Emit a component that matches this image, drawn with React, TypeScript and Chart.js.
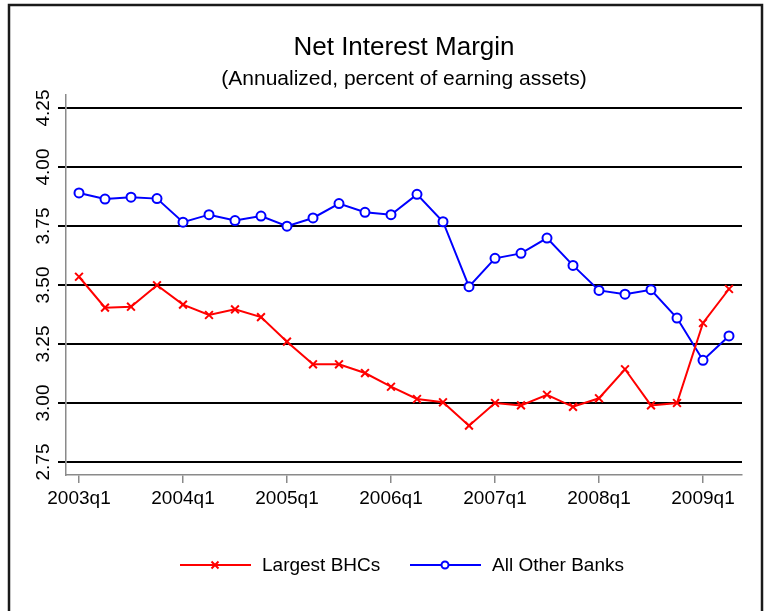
import React, { useEffect, useRef } from 'react';
import { Chart, registerables } from 'chart.js';

Chart.register(...registerables);

const FONT = "'Liberation Sans', Arial, Helvetica, sans-serif";

const titleText = 'Net Interest Margin';
const subtitleText = '(Annualized, percent of earning assets)';

const quarters = [
  '2003q1', '2003q2', '2003q3', '2003q4',
  '2004q1', '2004q2', '2004q3', '2004q4',
  '2005q1', '2005q2', '2005q3', '2005q4',
  '2006q1', '2006q2', '2006q3', '2006q4',
  '2007q1', '2007q2', '2007q3', '2007q4',
  '2008q1', '2008q2', '2008q3', '2008q4',
  '2009q1', '2009q2',
];

const largestBHCs = [
  3.535, 3.404, 3.408, 3.499,
  3.417, 3.373, 3.397, 3.364,
  3.260, 3.164, 3.164, 3.127,
  3.069, 3.017, 3.003, 2.904,
  3.000, 2.990, 3.035, 2.984,
  3.020, 3.143, 2.990, 3.000,
  3.339, 3.483,
];

const allOtherBanks = [
  3.890, 3.864, 3.872, 3.866,
  3.766, 3.798, 3.773, 3.792,
  3.749, 3.784, 3.845, 3.808,
  3.798, 3.884, 3.768, 3.493,
  3.613, 3.634, 3.699, 3.583,
  3.477, 3.461, 3.480, 3.360,
  3.181, 3.284,
];

const seriesNames = ['Largest BHCs', 'All Other Banks'];
const seriesColors = ['#ff0000', '#0000ff'];

const yMin = 2.695;
const yMax = 4.305;
const yStep = 0.25;

const decorPlugin = {
  id: 'decor',
  beforeDraw(chart: any) {
    const ctx = chart.ctx;
    ctx.save();
    ctx.fillStyle = '#ffffff';
    ctx.fillRect(0, 0, chart.width, chart.height);
    ctx.restore();
  },
  afterDraw(chart: any) {
    const ctx = chart.ctx;
    const area = chart.chartArea;
    const cxPlot = (area.left + area.right) / 2;
    ctx.save();
    // outer frame
    ctx.strokeStyle = '#1a1a1a';
    ctx.lineWidth = 2.5;
    ctx.strokeRect(9, 5, 753, 700);

    // titles
    ctx.fillStyle = '#000';
    ctx.textAlign = 'center';
    ctx.textBaseline = 'alphabetic';
    ctx.font = `26px ${FONT}`;
    ctx.fillText(titleText, cxPlot, 55);
    ctx.font = `21px ${FONT}`;
    ctx.fillText(subtitleText, cxPlot, 85);

    // legend
    const items = [
      { x: 180, textX: 262 },
      { x: 410, textX: 492 },
    ];
    const ly = 565;
    chart.data.datasets.forEach((ds: any, i: number) => {
      const it = items[i];
      ctx.strokeStyle = ds.borderColor;
      ctx.lineWidth = 2;
      ctx.beginPath();
      ctx.moveTo(it.x, ly);
      ctx.lineTo(it.x + 71, ly);
      ctx.stroke();
      const cx = it.x + 35;
      if (ds.pointStyle === 'crossRot') {
        ctx.beginPath();
        ctx.moveTo(cx - 3.5, ly - 3.5);
        ctx.lineTo(cx + 3.5, ly + 3.5);
        ctx.moveTo(cx - 3.5, ly + 3.5);
        ctx.lineTo(cx + 3.5, ly - 3.5);
        ctx.stroke();
      } else {
        ctx.fillStyle = '#fff';
        ctx.beginPath();
        ctx.arc(cx, ly, 3.5, 0, Math.PI * 2);
        ctx.fill();
        ctx.stroke();
      }
      ctx.fillStyle = '#000';
      ctx.textAlign = 'left';
      ctx.textBaseline = 'middle';
      ctx.font = `19px ${FONT}`;
      ctx.fillText(ds.label, it.textX, ly + 1);
    });
    ctx.restore();
  },
};

export default function App() {
  const canvasRef = useRef<HTMLCanvasElement | null>(null);

  useEffect(() => {
    document.body.style.margin = '0';
    const canvas = canvasRef.current;
    if (!canvas) return;
    const chart = new Chart(canvas, {
      type: 'line',
      data: {
        labels: quarters,
        datasets: [
          {
            label: seriesNames[0],
            data: largestBHCs,
            borderColor: seriesColors[0],
            backgroundColor: seriesColors[0],
            borderWidth: 2,
            pointStyle: 'crossRot',
            pointRadius: 5.5,
            pointBorderWidth: 2,
            pointBorderColor: seriesColors[0],
            tension: 0,
          },
          {
            label: seriesNames[1],
            data: allOtherBanks,
            borderColor: seriesColors[1],
            backgroundColor: '#ffffff',
            borderWidth: 2,
            pointStyle: 'circle',
            pointRadius: 4.5,
            pointBorderWidth: 2,
            pointBackgroundColor: '#ffffff',
            pointBorderColor: seriesColors[1],
            tension: 0,
          },
        ],
      },
      options: {
        responsive: false,
        animation: false,
        devicePixelRatio: 1,
        layout: { padding: { top: 95, right: 28, left: 0, bottom: 96 } },
        plugins: {
          legend: { display: false },
          title: { display: false },
          tooltip: { enabled: false },
        },
        scales: {
          x: {
            type: 'category',
            offset: true,
            afterFit: (s: any) => { s.height = 40; },
            border: { display: true, color: '#8a8a8a', width: 1.5 },
            grid: {
              offset: false,
              drawOnChartArea: false,
              drawTicks: true,
              tickLength: 8,
              color: '#8a8a8a',
              lineWidth: 1.5,
            },
            ticks: {
              autoSkip: false,
              maxRotation: 0,
              minRotation: 0,
              padding: 4,
              color: '#000',
              font: { family: FONT, size: 19 },
              callback: function (this: any, _v: any, i: number) {
                return i % 4 === 0 ? quarters[i] : null;
              },
            },
          },
          y: {
            type: 'linear',
            min: yMin,
            max: yMax,
            afterFit: (s: any) => { s.width = 66; },
            border: { display: true, color: '#8a8a8a', width: 1.5 },
            grid: {
              drawOnChartArea: true,
              drawTicks: true,
              tickLength: 8,
              color: '#000',
              lineWidth: 2,
            },
            ticks: {
              stepSize: yStep,
              includeBounds: false,
              minRotation: 90,
              maxRotation: 90,
              crossAlign: 'center',
              padding: -4,
              color: '#000',
              font: { family: FONT, size: 19 },
              callback: (v: any) => Number(v).toFixed(2),
            },
          },
        },
      },
      plugins: [decorPlugin],
    });
    return () => chart.destroy();
  }, []);

  return (
    <div style={{ width: 770, height: 611 }}>
      <canvas ref={canvasRef} width={770} height={611} style={{ display: 'block' }} />
    </div>
  );
}
